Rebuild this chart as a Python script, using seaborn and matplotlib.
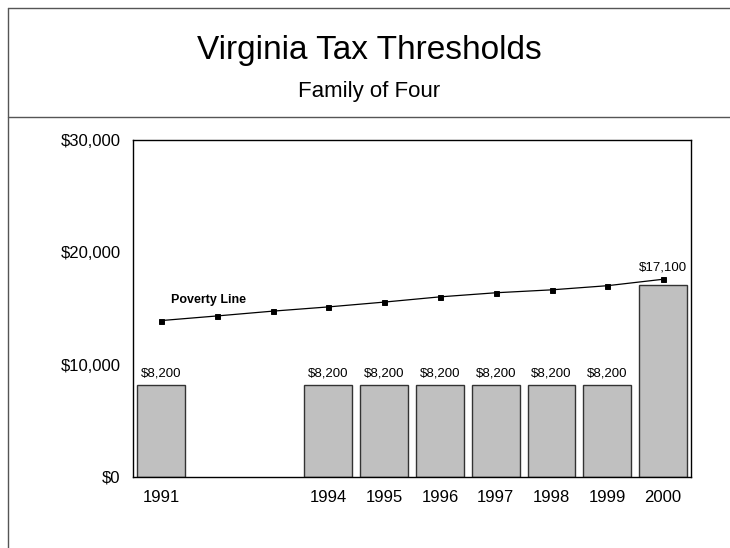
import numpy as np
import pandas as pd
import matplotlib
matplotlib.use("Agg")
import matplotlib.pyplot as plt
from matplotlib.lines import Line2D
import seaborn as sns

# Data
years = ['1991', '1992', '1993', '1994', '1995', '1996', '1997', '1998', '1999', '2000']
tick_labels = ['1991', '', '', '1994', '1995', '1996', '1997', '1998', '1999', '2000']
threshold = [8200, np.nan, np.nan, 8200, 8200, 8200, 8200, 8200, 8200, 17100]
poverty = [13924, 14335, 14763, 15141, 15569, 16036, 16400, 16660, 17029, 17603]

df = pd.DataFrame({'year': years, 'threshold': threshold, 'poverty': poverty})

sns.set_theme(style='white')
plt.rcParams['font.family'] = ['Liberation Sans', 'DejaVu Sans']
plt.rcParams['text.color'] = 'black'
plt.rcParams['xtick.color'] = 'black'
plt.rcParams['ytick.color'] = 'black'

fig = plt.figure(figsize=(7.3, 5.48), dpi=100)
fig.patch.set_facecolor('white')

# frame lines around the chart and under the titles
frame_col = '#555555'
fig.add_artist(Line2D([8/730, 1], [1 - 8/548, 1 - 8/548], transform=fig.transFigure, color=frame_col, lw=1))
fig.add_artist(Line2D([8/730, 8/730], [0, 1 - 8/548], transform=fig.transFigure, color=frame_col, lw=1))
fig.add_artist(Line2D([8/730, 1], [1 - 117/548, 1 - 117/548], transform=fig.transFigure, color=frame_col, lw=1))

fig.text(369/730, 1 - 59/548, 'Virginia Tax Thresholds', ha='center', va='baseline', fontsize=24, color='black')
fig.text(369/730, 1 - 97/548, 'Family of Four', ha='center', va='baseline', fontsize=16, color='black')

ax = fig.add_axes([133/730, 1 - 477/548, 558/730, 337/548])

sns.barplot(data=df, x='year', y='threshold', order=years, color='#C0C0C0',
            saturation=1, edgecolor='#333333', linewidth=1, width=0.86, ax=ax)
sns.pointplot(data=df, x='year', y='poverty', order=years, color='black',
              markers='s', markersize=3.6, linewidth=0.9, ax=ax)

# value labels
for i, (b, p) in enumerate(zip(threshold, poverty)):
    if np.isnan(b):
        continue
    top = max(b, p) if p - b < 2000 else b
    ax.annotate(f"${b:,.0f}", (i, top), xytext=(0, 4), textcoords='offset points',
                ha='center', va='bottom', fontsize=9.5, color='black')

ax.text(0.85, 15800, 'Poverty Line', fontweight='bold', fontsize=9, ha='center', va='center', color='black')

ax.set_xlim(-0.5, 9.5)
ax.set_ylim(0, 30000)
ax.set_yticks([0, 10000, 20000, 30000])
ax.set_yticklabels([f"${v:,.0f}" for v in [0, 10000, 20000, 30000]], fontsize=12)
ax.set_xticks(range(len(years)))
ax.set_xticklabels(tick_labels, fontsize=12)
ax.set_xlabel('')
ax.set_ylabel('')
ax.tick_params(length=0)
ax.tick_params(axis='x', pad=9)
ax.tick_params(axis='y', pad=9)
for s in ax.spines.values():
    s.set_visible(True)
    s.set_color('black')
    s.set_linewidth(1)

fig.savefig('out.png', dpi=100, facecolor='white')
